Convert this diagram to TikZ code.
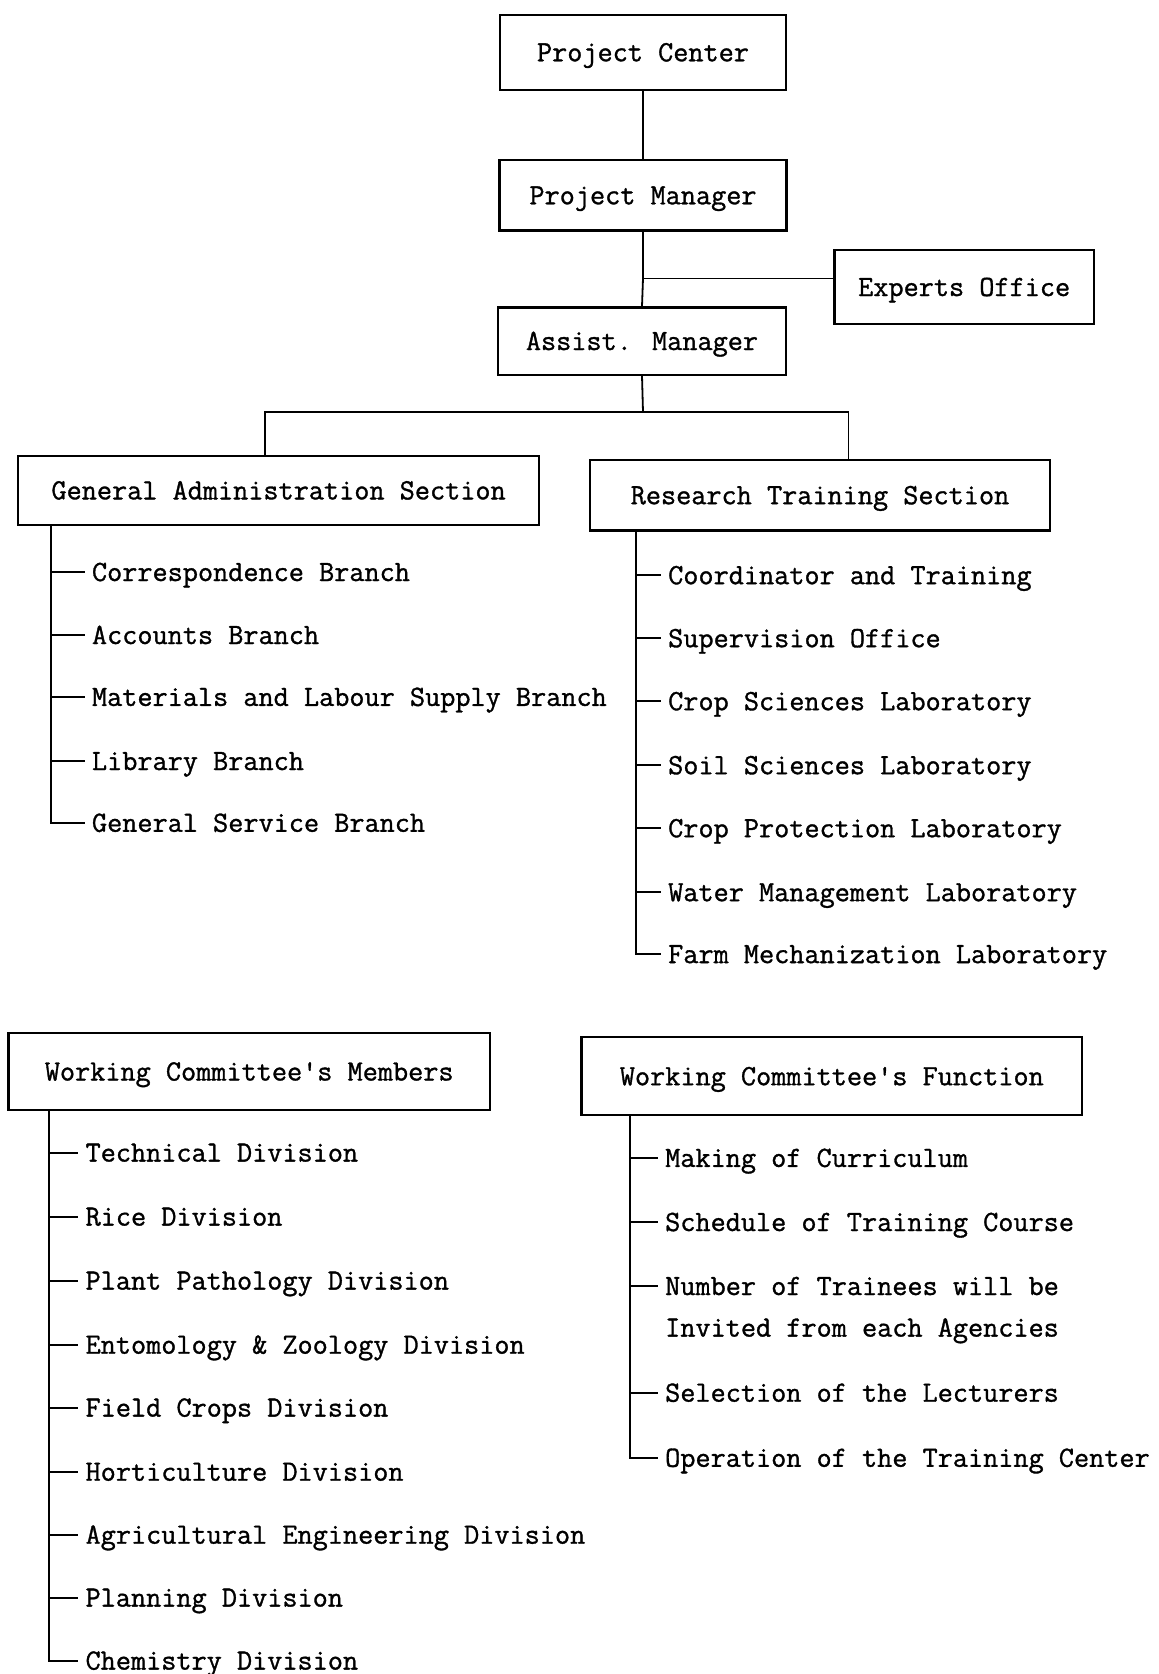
\documentclass[tikz,border=0pt]{standalone}
\usepackage{fontspec}
\newfontfamily\tw[FakeBold=1.1]{Latin Modern Mono}
\begin{document}
\begin{tikzpicture}[x=1pt,y=-1pt,
  every node/.style={font=\tw\fontsize{29.4}{36}\selectfont},
  box/.style={draw,line width=2.2pt,inner sep=0pt,text height=18pt,text depth=0pt},
  item/.style={anchor=west,inner xsep=7pt,inner ysep=0pt,text height=18pt,text depth=0pt},
  conn/.style={line width=1.8pt}]
\useasboundingbox (0,0) rectangle (1159,1674);
% top boxes
\node[box,minimum width=286pt,minimum height=74.6pt] (pc) at (643,52.3) {Project Center};
\node[box,minimum width=287pt,minimum height=70.5pt] (pm) at (643,195.3) {Project Manager};
\node[box,minimum width=259.4pt,minimum height=74.7pt] (ex) at (964.2,287) {Experts Office};
\node[box,minimum width=288.4pt,minimum height=67.2pt] (am) at (642,341) {Assist. Manager};
\node[box,minimum width=520.9pt,minimum height=69.3pt] (ga) at (278.6,490.4) {General Administration Section};
\node[box,minimum width=460pt,minimum height=70.4pt] (rt) at (820,495.2) {Research Training Section};
\node[box,minimum width=481.3pt,minimum height=77pt] (wm) at (249.2,1071.5) {Working Committee's Members};
\node[box,minimum width=500.5pt,minimum height=78pt] (wf) at (831.8,1076.2) {Working Committee's Function};
% top connectors
\draw[conn] (pc.south) -- (pc.south |- pm.north);
\coordinate (j1) at (643,278.5);
\draw[conn] (pm.south) -- (j1) -- (am.north);
\draw[conn] (j1) -- (ex.west |- j1);
\coordinate (j2) at (643,412);
\coordinate (gl) at (264.7,412);
\coordinate (rl) at (848.4,412);
\draw[conn] (am.south) -- (j2);
\draw[conn] (gl |- ga.north) -- (gl) -- (rl) -- (rl |- rt.north);
% General Administration items
\node[item] (g1) at (84.8,572) {Correspondence Branch};
\node[item] (g2) at (84.8,635) {Accounts Branch};
\node[item] (g3) at (84.8,696.9) {Materials and Labour Supply Branch};
\node[item] (g4) at (84.8,761) {Library Branch};
\node[item] (g5) at (84.8,822.8) {General Service Branch};
\coordinate (gs) at (51.2,525);
\draw[conn] (gs) |- (g5.west);
\foreach \n in {g1,g2,g3,g4} \draw[conn] (gs |- \n.west) -- (\n.west);
% Research Training items
\node[item] (r1) at (661,575.2) {Coordinator and Training};
\node[item] (r2) at (661,638.2) {Supervision Office};
\node[item] (r3) at (661,701.2) {Crop Sciences Laboratory};
\node[item] (r4) at (661,765.2) {Soil Sciences Laboratory};
\node[item] (r5) at (661,828.2) {Crop Protection Laboratory};
\node[item] (r6) at (661,892.2) {Water Management Laboratory};
\node[item] (r7) at (661,954.1) {Farm Mechanization Laboratory};
\coordinate (rs) at (636,530.4);
\draw[conn] (rs) |- (r7.west);
\foreach \n in {r1,r2,r3,r4,r5,r6} \draw[conn] (rs |- \n.west) -- (\n.west);
% Working Committee's Members items
\node[item] (m1) at (78.4,1152.6) {Technical Division};
\node[item] (m2) at (78.4,1216.6) {Rice Division};
\node[item] (m3) at (78.4,1280.6) {Plant Pathology Division};
\node[item] (m4) at (78.4,1344.7) {Entomology \& Zoology Division};
\node[item] (m5) at (78.4,1407.6) {Field Crops Division};
\node[item] (m6) at (78.4,1471.7) {Horticulture Division};
\node[item] (m7) at (78.4,1534.7) {Agricultural Engineering Division};
\node[item] (m8) at (78.4,1597.6) {Planning Division};
\node[item] (m9) at (78.4,1660.6) {Chemistry Division};
\coordinate (ms) at (49.1,1110);
\draw[conn] (ms) |- (m9.west);
\foreach \n in {m1,m2,m3,m4,m5,m6,m7,m8} \draw[conn] (ms |- \n.west) -- (\n.west);
% Working Committee's Function items
\node[item] (f1) at (658,1157.9) {Making of Curriculum};
\node[item] (f2) at (658,1222) {Schedule of Training Course};
\node[item] (f3) at (658,1286) {Number of Trainees will be};
\node[item] (f3b) at (658,1327.6) {Invited from each Agencies};
\node[item] (f4) at (658,1392.7) {Selection of the Lecturers};
\node[item] (f5) at (658,1457.8) {Operation of the Training Center};
\coordinate (fs) at (629.6,1115.2);
\draw[conn] (fs) |- (f5.west);
\foreach \n in {f1,f2,f3,f4} \draw[conn] (fs |- \n.west) -- (\n.west);
\end{tikzpicture}
\end{document}
